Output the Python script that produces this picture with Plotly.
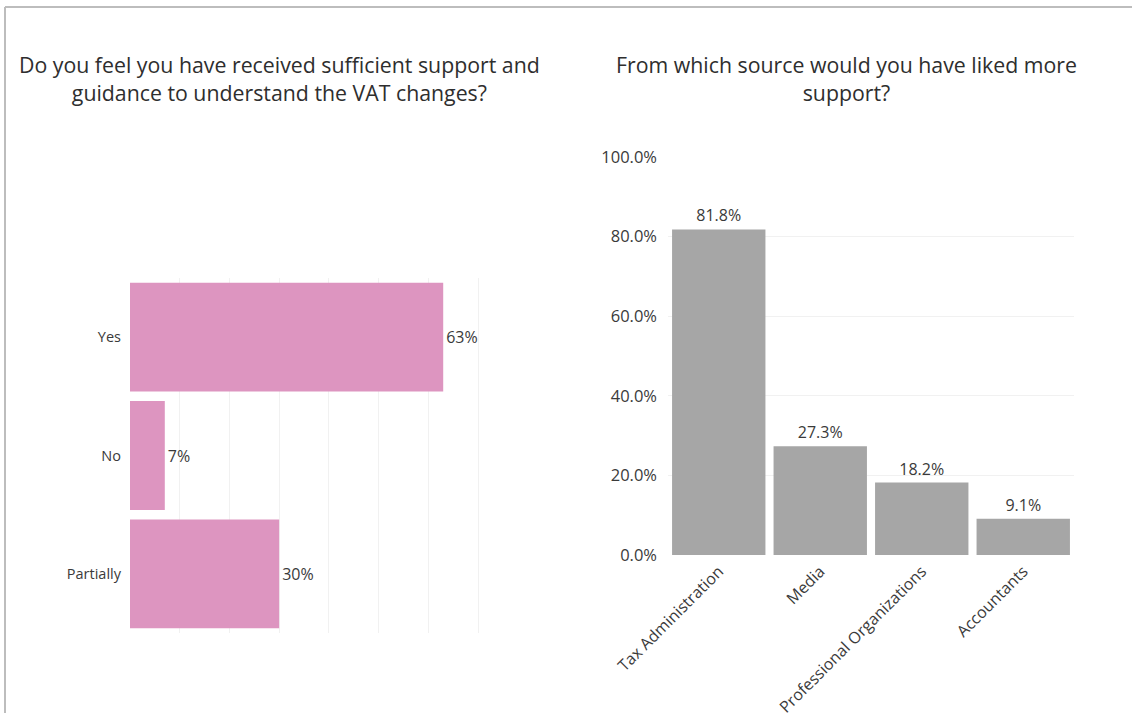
import plotly.graph_objects as go

W, H = 1132, 713

# Survey question 1: sufficiency of support
q1_title = "Do you feel you have received sufficient support and<br>guidance to understand the VAT changes?"
q1_answers = ["Yes", "No", "Partially"]
q1_shares = [63, 7, 30]

# Survey question 2: preferred source of more support
q2_title = "From which source would you have liked more<br>support?"
q2_sources = ["Tax Administration", "Media", "Professional Organizations", "Accountants"]
q2_shares = [81.8, 27.3, 18.2, 9.1]

FONT = "Open Sans"
TEXT = "#3a3a3a"
GRID = "#f1f1f1"


def px_x(p):
    return p / W


def px_y(p):
    return 1 - p / H


fig = go.Figure()

fig.add_trace(go.Bar(
    x=q1_shares, y=q1_answers, orientation="h",
    marker=dict(color="#dd95c0", line=dict(width=0)),
    text=[f"{v}%" for v in q1_shares], textposition="outside",
    textfont=dict(family=FONT, size=16, color=TEXT),
    cliponaxis=False, xaxis="x", yaxis="y", showlegend=False,
))

fig.add_trace(go.Bar(
    x=q2_sources, y=q2_shares,
    marker=dict(color="#a6a6a6", line=dict(width=0)),
    text=[f"{v:.1f}%" for v in q2_shares], textposition="outside",
    textfont=dict(family=FONT, size=16, color=TEXT),
    cliponaxis=False, xaxis="x2", yaxis="y2", showlegend=False,
))

fig.update_layout(
    width=W, height=H,
    margin=dict(l=0, r=0, t=0, b=0),
    paper_bgcolor="white", plot_bgcolor="white",
    font=dict(family=FONT, color=TEXT),
    bargap=0.08,
    xaxis=dict(
        domain=[px_x(130), px_x(480.5)], range=[0, 70.5], dtick=10,
        showgrid=True, gridcolor=GRID, gridwidth=1, zeroline=False,
        showticklabels=False, showline=False, automargin=False, fixedrange=True,
    ),
    yaxis=dict(
        domain=[px_y(633), px_y(278)], autorange="reversed",
        showgrid=False, zeroline=False, showline=False,
        tickfont=dict(family=FONT, size=14.5, color=TEXT),
        ticks="", ticklabelstandoff=8, automargin=False, anchor="x",
    ),
    xaxis2=dict(
        domain=[px_x(668), px_x(1074)], anchor="y2",
        tickangle=-45, tickfont=dict(family=FONT, size=16, color=TEXT),
        showgrid=False, zeroline=False, showline=False, ticks="",
        automargin=False, ticklabelstandoff=3,
    ),
    yaxis2=dict(
        domain=[px_y(555), px_y(157)], range=[0, 100], dtick=20,
        ticksuffix="%", tickformat=".1f",
        tickfont=dict(family=FONT, size=16.5, color=TEXT),
        showgrid=True, gridcolor=GRID, gridwidth=1, zeroline=False,
        showline=False, ticks="", automargin=False, anchor="x2",
        ticklabelstandoff=10,
    ),
    annotations=[
        dict(text=q1_title, x=px_x(279), y=px_y(79), xref="paper", yref="paper",
             xanchor="center", yanchor="middle", showarrow=False, align="center",
             font=dict(family=FONT, size=21.3, color="#2e2e2e")),
        dict(text=q2_title, x=px_x(846), y=px_y(79), xref="paper", yref="paper",
             xanchor="center", yanchor="middle", showarrow=False, align="center",
             font=dict(family=FONT, size=21.3, color="#2e2e2e")),
    ],
    shapes=[
        dict(type="line", xref="paper", yref="paper",
             x0=px_x(5), x1=1.0, y0=px_y(7), y1=px_y(7),
             line=dict(color="#bdbdbd", width=2)),
        dict(type="line", xref="paper", yref="paper",
             x0=px_x(5), x1=px_x(5), y0=px_y(7), y1=0.0,
             line=dict(color="#bdbdbd", width=2)),
    ],
)

fig.write_html("out.html")
